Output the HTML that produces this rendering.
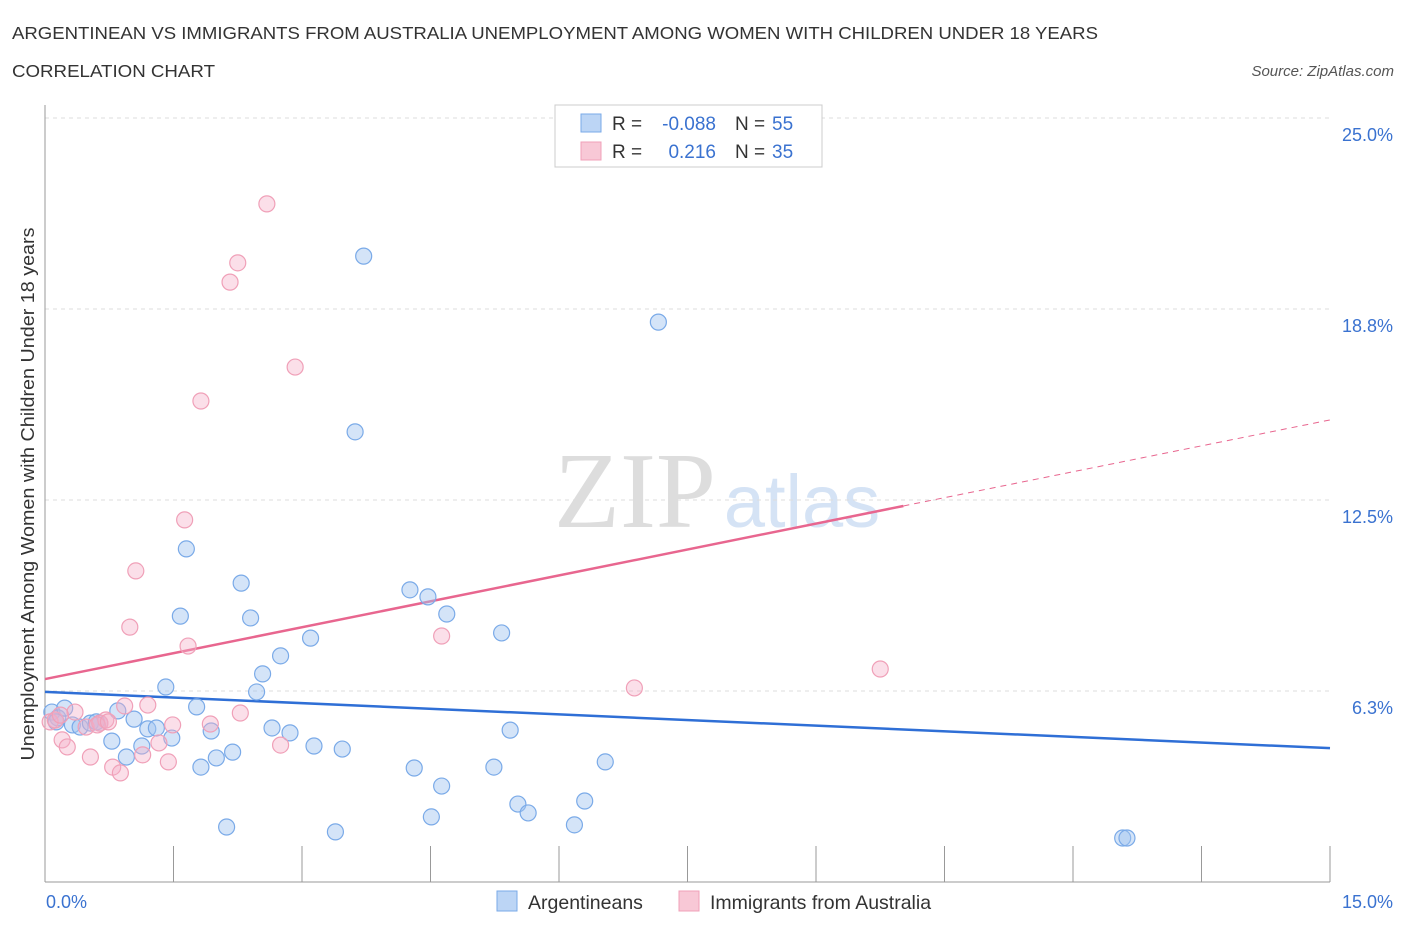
<!DOCTYPE html>
<html><head><meta charset="utf-8"><style>
body{margin:0;background:#fff;font-family:"Liberation Sans",sans-serif}
#c{position:absolute;left:0;top:0}
</style></head><body>
<svg id="c" width="1406" height="930" xmlns="http://www.w3.org/2000/svg">
<text x="12" y="39" font-size="17.5" fill="#333" textLength="1086" lengthAdjust="spacingAndGlyphs">ARGENTINEAN VS IMMIGRANTS FROM AUSTRALIA UNEMPLOYMENT AMONG WOMEN WITH CHILDREN UNDER 18 YEARS</text>
<text x="12" y="77" font-size="17.5" fill="#333" textLength="203" lengthAdjust="spacingAndGlyphs">CORRELATION CHART</text>
<text x="1394" y="76" font-size="15" fill="#555" font-style="italic" text-anchor="end">Source: ZipAtlas.com</text>
<text x="635" y="527" font-size="108" fill="#ddd" font-family="Liberation Serif,serif" text-anchor="middle">ZIP</text>
<text x="802" y="527" font-size="74" fill="#d5e3f5" text-anchor="middle">atlas</text>
<g id="grid"></g>
<g id="axes"></g>
<g id="lines"></g>
<g id="pts"></g>
<text transform="translate(34,494) rotate(-90)" font-size="18" fill="#333" text-anchor="middle" textLength="533" lengthAdjust="spacingAndGlyphs">Unemployment Among Women with Children Under 18 years</text>
<g>
<rect x="555" y="105" width="267" height="62" fill="#fff" stroke="#ccc"/>
<rect x="581" y="114" width="20" height="18" fill="#bcd5f5" stroke="#7aaae8"/>
<text x="612" y="130" font-size="19" fill="#333">R =</text>
<text x="716" y="130" font-size="19" fill="#3a72d0" text-anchor="end">-0.088</text>
<text x="735" y="130" font-size="19" fill="#333">N =</text>
<text x="772" y="130" font-size="19" fill="#3a72d0">55</text>
<rect x="581" y="142" width="20" height="18" fill="#f8c8d6" stroke="#f0a0b8"/>
<text x="612" y="158" font-size="19" fill="#333">R =</text>
<text x="716" y="158" font-size="19" fill="#3a72d0" text-anchor="end">0.216</text>
<text x="735" y="158" font-size="19" fill="#333">N =</text>
<text x="772" y="158" font-size="19" fill="#3a72d0">35</text>
</g>
<g>
<rect x="497" y="891" width="20" height="20" fill="#bcd5f5" stroke="#7aaae8"/>
<text x="528" y="909" font-size="19.5" fill="#333">Argentineans</text>
<rect x="679" y="891" width="20" height="20" fill="#f8c8d6" stroke="#f0a0b8"/>
<text x="710" y="909" font-size="19.5" fill="#333">Immigrants from Australia</text>
</g>
</svg>
<script>
const yTicks=[6.3,12.5,18.8,25.0];
const yTickVals=[6.25,12.5,18.75,25];
const xTickLabels=["0.0%","15.0%"];
const blueX=[0.08,0.15,0.23,0.13,0.32,0.41,0.53,0.60,0.64,0.78,0.85,0.95,1.04,1.13,1.20,1.30,1.41,1.48,1.58,1.65,1.77,1.82,1.94,2.00,2.12,2.19,2.29,2.40,2.47,2.54,2.65,2.75,2.86,3.10,3.14,3.39,3.47,3.62,3.72,4.26,4.31,4.47,4.51,4.63,4.69,5.24,5.33,5.43,5.52,5.64,6.18,6.30,6.54,7.16,12.58,12.63];
const blueY=[5.56,5.37,5.69,5.24,5.14,5.07,5.20,5.24,5.20,4.61,5.60,4.09,5.33,4.45,5.01,5.04,6.38,4.71,8.70,10.90,5.73,3.76,4.94,4.06,1.80,4.25,9.78,8.64,6.22,6.81,5.04,7.40,4.88,7.98,4.45,1.64,4.35,14.73,20.48,9.56,3.73,9.33,2.13,3.14,8.77,3.76,8.15,4.97,2.55,2.26,1.87,2.65,3.93,18.32,1.44,1.44];
const pinkX=[0.06,0.12,0.20,0.26,0.35,0.48,0.53,0.64,0.71,0.79,0.88,0.93,0.99,1.06,1.14,1.20,1.33,1.44,1.49,1.63,1.67,1.82,1.93,2.16,2.25,2.28,2.59,2.75,2.92,4.63,6.88,9.75,0.61,0.74,0.18];
const pinkY=[5.24,5.30,4.65,4.42,5.56,5.07,4.09,5.20,5.30,3.76,3.57,5.76,8.34,10.18,4.16,5.79,4.55,3.93,5.14,11.85,7.72,15.74,5.17,19.63,20.26,5.53,22.19,4.48,16.85,8.05,6.35,6.97,5.14,5.24,5.46];
const blueTrend=[6.22,4.38];
const pinkTrend=[6.64,15.12];
const pinkSolidEnd=10.02;
const NS="http://www.w3.org/2000/svg";
const sx=v=>45+v/15*1285, sy=v=>882-v/25*764;
function mk(t,a,p){const e=document.createElementNS(NS,t);for(const k in a)e.setAttribute(k,a[k]);p.appendChild(e);return e;}
const grid=document.getElementById('grid'),axes=document.getElementById('axes'),lines=document.getElementById('lines'),pts=document.getElementById('pts');
yTickVals.forEach((v,i)=>{
 const l=mk('line',{x1:45,x2:1330,y1:sy(v),y2:sy(v),stroke:'#ddd','stroke-dasharray':'4,4'},grid);
 
 
 const t=mk('text',{x:1393,y:sy(v)+23,'font-size':18,fill:'#3a72d0','text-anchor':'end'},grid);
 t.textContent=yTicks[i].toFixed(1)+'%';
 
 
});
const ya=mk('line',{x1:45,x2:45,y1:105,y2:882,stroke:'#999'},axes);


const xa=mk('line',{x1:45,x2:1330,y1:882,y2:882,stroke:'#999'},axes);


for(let i=0;i<=10;i++){const x=sx(i*1.5);const tk=mk('line',{x1:x,x2:x,y1:i==0?882:846,y2:882,stroke:'#999'},axes);
 
 }
[[0,46,'start'],[15,1393,'end']].forEach((d,i)=>{const t=mk('text',{x:d[1],y:908,'font-size':18,fill:'#3a72d0','text-anchor':d[2]},axes);t.textContent=xTickLabels[i];
 
 });
function draw(X,Y,fill,stroke,name){X.forEach((x,i)=>{const c=mk('circle',{cx:sx(x),cy:sy(Y[i]),r:8,fill:fill,stroke:stroke,'stroke-width':1.2},pts);
 
 });}
draw(blueX,blueY,'rgba(160,195,240,0.45)','#7aaae8','argentinean-point');
draw(pinkX,pinkY,'rgba(245,175,200,0.4)','#f0a0b8','australia-point');
const bl=mk('line',{x1:sx(0),y1:sy(blueTrend[0]),x2:sx(15),y2:sy(blueTrend[1]),stroke:'#2f6fd6','stroke-width':2.5},lines);


const pm=v=>pinkTrend[0]+(pinkTrend[1]-pinkTrend[0])*v/15;
const pl=mk('line',{x1:sx(0),y1:sy(pm(0)),x2:sx(pinkSolidEnd),y2:sy(pm(pinkSolidEnd)),stroke:'#e8668f','stroke-width':2.5},lines);


const pd=mk('line',{x1:sx(pinkSolidEnd),y1:sy(pm(pinkSolidEnd)),x2:sx(15),y2:sy(pm(15)),stroke:'#e8668f','stroke-width':1,'stroke-dasharray':'6,5'},lines);


</script>
</body></html>
